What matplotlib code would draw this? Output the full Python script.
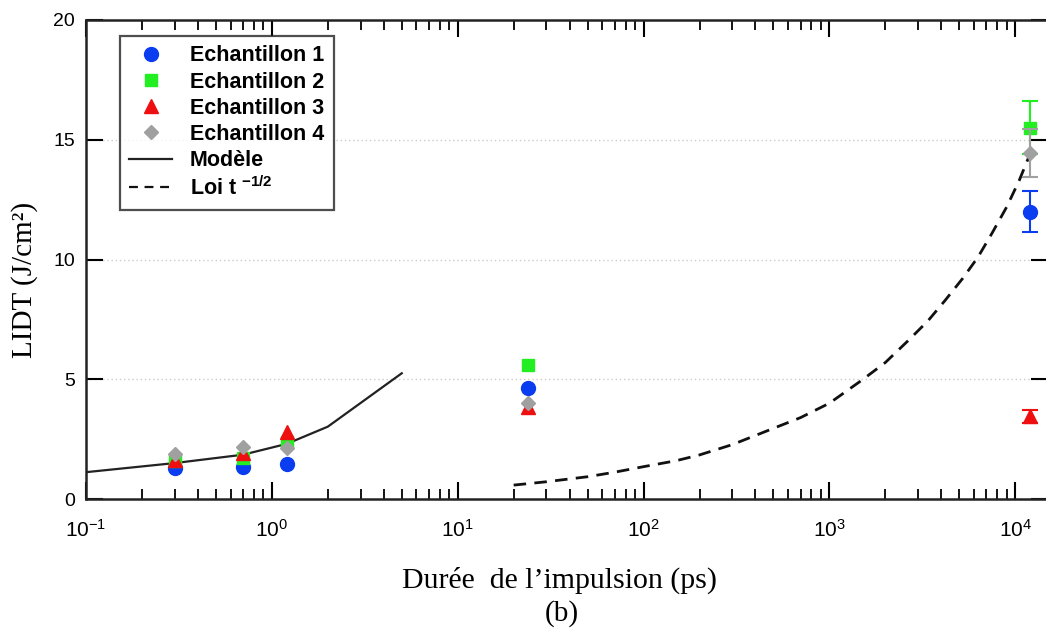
import matplotlib
matplotlib.use("Agg")
import matplotlib.pyplot as plt
from matplotlib.lines import Line2D
from matplotlib.ticker import LogLocator, NullFormatter, LogFormatterSciNotation

plt.rcParams['font.family'] = ['Liberation Sans', 'DejaVu Sans']
plt.rcParams['mathtext.fontset'] = 'custom'
plt.rcParams['mathtext.rm'] = 'Liberation Sans'
plt.rcParams['mathtext.it'] = 'Liberation Sans:italic'
plt.rcParams['mathtext.bf'] = 'Liberation Sans:bold'

# ---- data ----
durations = [0.3, 0.7, 1.2, 24, 12000]
ech1 = [1.3, 1.32, 1.45, 4.62, 12.0]
ech2 = [1.6, 1.72, 2.38, 5.6, 15.5]
ech3 = [1.62, 1.9, 2.8, 3.85, 3.45]
ech4 = [1.88, 2.18, 2.15, 4.0, 14.45]
err1 = [0, 0, 0, 0, 0.85]
err2 = [0, 0, 0, 0, 1.1]
err3 = [0, 0, 0, 0, 0.28]
err4 = [0, 0, 0, 0, 1.0]

model_x = [0.1, 0.3, 0.7, 1.2, 2.0, 5.0]
model_y = [1.12, 1.5, 1.85, 2.3, 3.02, 5.25]

loi_x = [20, 30, 50, 70, 100, 150, 200, 300, 450, 700, 1000, 1500, 2000,
         2700, 3400, 4200, 5200, 6300, 7500, 9000, 10500, 12000]
loi_y = [0.58, 0.72, 0.93, 1.12, 1.35, 1.6, 1.84, 2.27, 2.81, 3.4, 4.0, 4.97, 5.7,
         6.67, 7.45, 8.3, 9.2, 10.1, 11.1, 12.2, 13.3, 14.4]

labels = ["Echantillon 1", "Echantillon 2", "Echantillon 3", "Echantillon 4",
          "Modèle", "Loi t $^{\\mathbf{-1/2}}$"]
xtick_vals = [0.1, 1, 10, 100, 1000, 10000]
ytick_vals = [0, 5, 10, 15, 20]

c1, c2, c3, c4 = '#0a3cf0', '#22ee22', '#ee1010', '#a0a0a0'

fig = plt.figure(figsize=(10.46, 6.32), dpi=100)
ax = fig.add_axes([86/1046, 133/632, 962/1046, 479/632])

ax.set_xscale('log')
ax.set_xlim(0.1, 1.5e4)
ax.set_ylim(0, 20)

for y in [5, 10, 15]:
    ax.axhline(y, color='#cccccc', lw=1.0, ls=(0, (1, 2)), zorder=0)

ax.plot(model_x, model_y, color='#222222', lw=1.6, zorder=2)
ax.plot(loi_x, loi_y, color='#111111', lw=2.0, ls=(0, (4.5, 3)), zorder=2)

series = [(ech1, err1, 'o', c1, 10), (ech2, err2, 's', c2, 9),
          (ech3, err3, '^', c3, 9.5), (ech4, err4, 'D', c4, 7.5)]
for vals, errs, mk, col, ms in series:
    ex = [d for d, e in zip(durations, errs) if e > 0]
    ey = [v for v, e in zip(vals, errs) if e > 0]
    ee = [e for e in errs if e > 0]
    ax.errorbar(ex, ey, yerr=ee, fmt='none', ecolor=col, capsize=6,
                elinewidth=1.5, capthick=1.5, zorder=3)
    ax.plot(durations, vals, ls='none', marker=mk, color=col, ms=ms, zorder=3)

ax.set_xticks(xtick_vals)
ax.xaxis.set_major_formatter(LogFormatterSciNotation())
ax.xaxis.set_minor_locator(LogLocator(base=10, subs=range(2, 10), numticks=20))
ax.xaxis.set_minor_formatter(NullFormatter())
ax.set_yticks(ytick_vals)

ax.tick_params(axis='both', which='major', direction='in', length=12, width=1.5,
               top=True, right=True)
ax.tick_params(axis='x', which='major', labelsize=15, pad=14)
ax.tick_params(axis='y', which='major', labelsize=14, pad=8)
ax.tick_params(axis='x', which='minor', direction='in', length=7, width=1.3, top=True)
for s in ax.spines.values():
    s.set_linewidth(1.8)
    s.set_color('#222222')

handles = [
    Line2D([], [], marker='o', ls='none', color=c1, ms=10),
    Line2D([], [], marker='s', ls='none', color=c2, ms=9),
    Line2D([], [], marker='^', ls='none', color=c3, ms=10),
    Line2D([], [], marker='D', ls='none', color=c4, ms=7),
    Line2D([], [], color='#222222', lw=1.6),
    Line2D([], [], color='#111111', lw=1.6, ls=(0, (4, 3))),
]
leg = ax.legend(handles, labels, loc='upper left', bbox_to_anchor=(0.035, 0.967),
                prop={'weight': 'bold', 'size': 15.5}, frameon=True, fancybox=False,
                edgecolor='#222222', labelspacing=0.24, handlelength=2.0,
                borderpad=0.45, handletextpad=0.8, borderaxespad=0)
leg.get_frame().set_linewidth(1.6)

ax.set_ylabel("LIDT (J/cm²)", family='Liberation Serif', fontsize=21)
ax.yaxis.set_label_coords(-0.05, 0.457)
fig.text(0.535, 1 - 580/632, "Durée  de l\u2019impulsion (ps)", family='Liberation Serif',
         fontsize=21.5, ha='center', va='center')
fig.text(0.537, 1 - 614/632, "(b)", family='Liberation Serif',
         fontsize=21, ha='center', va='center')

fig.savefig("out.png", dpi=100)
